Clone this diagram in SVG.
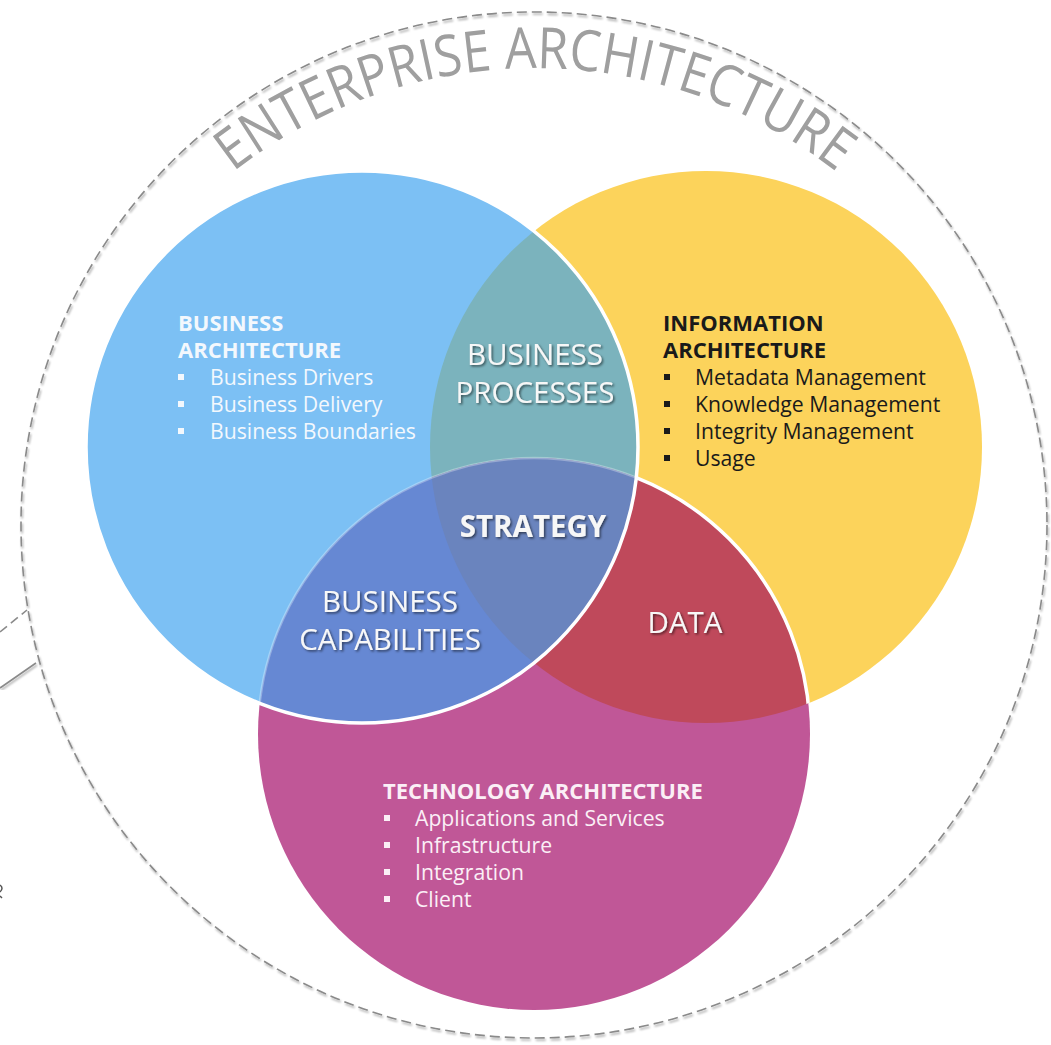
<svg xmlns="http://www.w3.org/2000/svg" width="1051" height="1045" viewBox="0 0 1051 1045">
<defs>
<style>
.f{font-family:"Open Sans","Noto Sans","DejaVu Sans",sans-serif}
.hdr{font-weight:700;font-size:22px}
.item{font-size:21.2px}
.lbl{font-size:29.5px;fill:#f7f7f7;text-anchor:middle}
.wt{fill:#f3f8fd}
.bk{fill:#1a1a1a}
.pk{fill:#fbeff6}
.ring{fill:none;stroke:#8a8a8a;stroke-width:1.6;stroke-dasharray:10 5}
.edge{fill:none;stroke:#ffffff;stroke-width:3.5}
</style>
<clipPath id="cB"><circle cx="362" cy="447" r="276"/></clipPath>
<clipPath id="cY"><circle cx="706" cy="447" r="276"/></clipPath>
<mask id="mNotB"><rect width="1051" height="1045" fill="#fff"/><circle cx="362" cy="447" r="276" fill="#000"/></mask>
<filter id="ts" x="-10%" y="-40%" width="130%" height="180%"><feDropShadow dx="1.5" dy="1.5" stdDeviation="1.2" flood-color="#000" flood-opacity="0.55"/></filter>
<filter id="ds" x="-5%" y="-5%" width="110%" height="110%"><feDropShadow dx="1" dy="2" stdDeviation="1.3" flood-color="#000" flood-opacity="0.35"/></filter>
<path id="arc" d="M74.6,390.4 A490,490 0 0 1 995.4,390.4"/>
</defs>
<rect width="1051" height="1045" fill="#ffffff"/>

<g id="enterprise">
<circle class="ring" cx="534" cy="525" r="513" filter="url(#ds)"/>
<text class="f" font-size="57" fill="#9f9f9f"><textPath href="#arc" startOffset="50%" text-anchor="middle" textLength="650" lengthAdjust="spacingAndGlyphs">ENTERPRISE ARCHITECTURE</textPath></text>
</g>

<g id="fragments">
<path d="M0,632 L27,610" fill="none" stroke="#8a8a8a" stroke-width="1.6" stroke-dasharray="9 5"/>
<path d="M0,688 L36,663" fill="none" stroke="#8a8a8a" stroke-width="1.6" filter="url(#ds)"/>
<path d="M0,885 q4,3 0,7 M0,896 l2,2" fill="none" stroke="#555" stroke-width="1.5"/>
</g>

<g id="information-architecture">
<circle cx="706" cy="447" r="276" fill="#fcd35b"/>
</g>
<g id="technology-architecture">
<circle cx="534" cy="734" r="276" fill="#c05797"/>
</g>
<g id="business-architecture">
<circle cx="362" cy="447" r="276" fill="#7cc0f4"/>
</g>

<g id="business-processes">
<circle cx="706" cy="447" r="276" fill="#7bb3bd" clip-path="url(#cB)"/>
</g>
<g id="data">
<circle cx="534" cy="734" r="276" fill="#bf495b" clip-path="url(#cY)"/>
</g>
<g id="business-capabilities">
<circle cx="534" cy="734" r="276" fill="#6688d3" clip-path="url(#cB)"/>
</g>
<g id="strategy">
<g clip-path="url(#cB)"><circle cx="534" cy="734" r="276" fill="#6a84be" clip-path="url(#cY)"/></g>
</g>

<g id="edges">
<g clip-path="url(#cY)"><circle class="edge" cx="534" cy="734" r="276" mask="url(#mNotB)"/></g>
<g clip-path="url(#cB)"><circle cx="534" cy="734" r="276" fill="none" stroke="#fff" stroke-opacity="0.3" stroke-width="2.5"/></g>
<circle class="edge" cx="362" cy="447" r="276"/>
</g>

<g id="business-architecture-text" class="f">
<text class="hdr wt" x="178" y="331">BUSINESS</text>
<text class="hdr wt" x="178" y="358">ARCHITECTURE</text>
<g class="wt"><rect x="178" y="374" width="6" height="6"/><rect x="178" y="401" width="6" height="6"/><rect x="178" y="428" width="6" height="6"/></g>
<text class="item wt" x="210" y="385">Business Drivers</text>
<text class="item wt" x="210" y="412">Business Delivery</text>
<text class="item wt" x="210" y="439">Business Boundaries</text>
</g>

<g id="information-architecture-text" class="f">
<text class="hdr bk" x="663" y="331">INFORMATION</text>
<text class="hdr bk" x="663" y="358">ARCHITECTURE</text>
<g class="bk"><rect x="664" y="374" width="6" height="6"/><rect x="664" y="401" width="6" height="6"/><rect x="664" y="428" width="6" height="6"/><rect x="664" y="455" width="6" height="6"/></g>
<text class="item bk" x="695" y="385">Metadata Management</text>
<text class="item bk" x="695" y="412">Knowledge Management</text>
<text class="item bk" x="695" y="439">Integrity Management</text>
<text class="item bk" x="695" y="466">Usage</text>
</g>

<g id="technology-architecture-text" class="f">
<text class="hdr pk" x="383" y="799">TECHNOLOGY ARCHITECTURE</text>
<g class="pk"><rect x="384" y="815" width="6" height="6"/><rect x="384" y="842" width="6" height="6"/><rect x="384" y="869" width="6" height="6"/><rect x="384" y="896" width="6" height="6"/></g>
<text class="item pk" x="415" y="826">Applications and Services</text>
<text class="item pk" x="415" y="853">Infrastructure</text>
<text class="item pk" x="415" y="880">Integration</text>
<text class="item pk" x="415" y="907">Client</text>
</g>

<g id="labels" class="f" filter="url(#ts)">
<text class="lbl" x="535" y="365">BUSINESS</text>
<text class="lbl" x="535" y="403">PROCESSES</text>
<text class="lbl" x="533" y="537" font-weight="700" font-size="30">STRATEGY</text>
<text class="lbl" x="390" y="612">BUSINESS</text>
<text class="lbl" x="390" y="650">CAPABILITIES</text>
<text class="lbl" x="685" y="633">DATA</text>
</g>
</svg>
